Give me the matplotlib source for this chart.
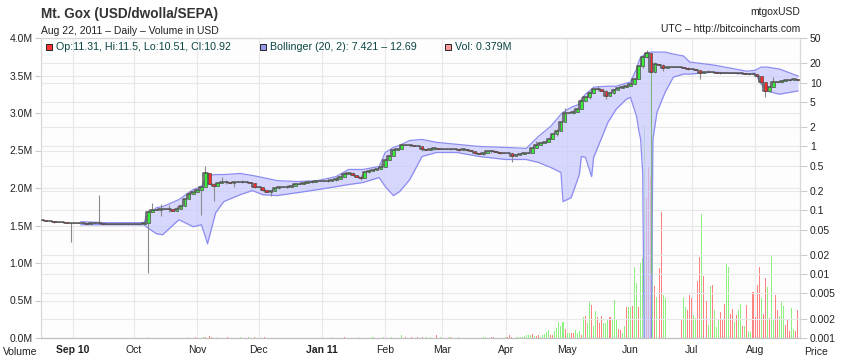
import datetime as dt
import numpy as np
import matplotlib
matplotlib.use('Agg')
import matplotlib.pyplot as plt
import matplotlib.dates as mdates
from matplotlib.ticker import FixedLocator, FixedFormatter, NullLocator

plt.rcParams['font.family'] = ['Liberation Sans', 'DejaVu Sans']

# ---- daily candles, one every 2 days starting here ----
first_day = dt.date(2010, 8, 17)
closes = [
    # Aug 17 - Aug 31 2010
    0.070, 0.068, 0.067, 0.066, 0.065, 0.065, 0.064, 0.064,
    # Sep
    0.063, 0.063, 0.063, 0.062, 0.063, 0.063, 0.063, 0.062, 0.062, 0.062, 0.062, 0.062, 0.062, 0.062, 0.062,
    # Oct
    0.062, 0.062, 0.063, 0.094, 0.100, 0.102, 0.104, 0.106, 0.104, 0.099, 0.105, 0.118, 0.150, 0.180, 0.195,
    # Nov
    0.210, 0.235, 0.390, 0.260, 0.240, 0.270, 0.280, 0.280, 0.270, 0.280, 0.280, 0.280, 0.280, 0.270, 0.235,
    # Dec
    0.230, 0.210, 0.196, 0.200, 0.225, 0.230, 0.235, 0.235, 0.240, 0.255, 0.260, 0.270, 0.275, 0.280, 0.285, 0.290,
    # Jan 2011
    0.290, 0.290, 0.300, 0.310, 0.330, 0.370, 0.390, 0.360, 0.330, 0.320, 0.400, 0.420, 0.430, 0.450, 0.480,
    # Feb
    0.620, 0.700, 0.870, 0.920, 1.060, 1.040, 1.040, 1.030, 1.020, 0.920, 0.880, 0.900, 0.930, 0.900,
    # Mar
    0.900, 0.910, 0.920, 0.900, 0.890, 0.900, 0.870, 0.850, 0.800, 0.770, 0.800, 0.850, 0.840, 0.810, 0.790, 0.780,
    # Apr
    0.780, 0.700, 0.740, 0.770, 0.780, 0.800, 0.930, 1.050, 1.120, 1.180, 1.300, 1.550, 1.750, 2.400, 3.400,
    # May
    3.300, 3.500, 3.900, 5.200, 5.900, 7.000, 7.900, 7.900, 7.500, 6.100, 7.000, 7.600, 8.300, 8.600, 9.000,
    # Jun
    9.500, 11.50, 18.00, 25.00, 29.60, 14.60, 19.50, 19.00, 17.00, 17.50, 17.50, 17.50, 17.40, 17.00, 16.40,
    # Jul
    16.30, 15.60, 14.40, 14.80, 14.80, 14.60, 14.40, 14.20, 14.10, 14.00, 13.90, 14.00, 13.90, 13.80, 13.70, 13.50,
    # Aug
    12.60, 10.30, 7.400, 8.600, 10.20, 10.10, 10.50, 10.80, 11.00, 11.31, 10.92,
]
first_open = 0.071

# candles whose high / low reach past the body
wick_idx = [3, 7, 11, 14, 19, 26, 27, 29, 31, 33, 36, 39, 40, 42, 44, 45, 47, 49, 52, 54,
            56, 58, 60, 62, 64, 66, 70, 72, 74, 76, 78, 80, 83, 86, 88, 90, 93, 96, 100, 102,
            104, 106, 108, 110, 112, 115, 118, 121, 124, 126, 128, 130, 132, 134, 136, 138, 140, 142,
            147, 148, 149, 150, 152, 158, 161, 163, 166, 170, 173, 176, 177, 179, 181, 183, 185]
wick_hi = [0.067, 0.064, 0.064, 0.176, 0.063, 0.100, 0.130, 0.125, 0.120, 0.118, 0.200, 0.240, 0.500, 0.270,
           0.330, 0.300, 0.290, 0.300, 0.270, 0.225, 0.210, 0.240, 0.250, 0.270, 0.285, 0.300, 0.315, 0.330,
           0.400, 0.400, 0.360, 0.450, 0.550, 0.900, 1.100, 1.080, 1.020, 0.960, 0.950, 0.920, 0.920, 0.850,
           0.820, 0.880, 0.830, 0.780, 0.810, 1.200, 1.400, 1.850, 4.000, 3.700, 5.900, 7.400, 8.900, 7.600,
           7.900, 8.900, 26.50, 31.90, 29.60, 21.00, 19.50, 17.50, 15.60, 16.00, 14.80, 14.40, 14.20, 12.70,
           10.30, 12.20, 10.90, 11.30, 11.50]
wick_lo = [0.064, 0.032, 0.060, 0.062, 0.060, 0.0105, 0.094, 0.080, 0.095, 0.097, 0.150, 0.085, 0.235, 0.140,
           0.270, 0.260, 0.230, 0.265, 0.220, 0.200, 0.170, 0.215, 0.225, 0.240, 0.255, 0.265, 0.280, 0.290,
           0.330, 0.340, 0.300, 0.380, 0.450, 0.700, 0.920, 0.980, 0.850, 0.880, 0.880, 0.850, 0.840, 0.750,
           0.740, 0.800, 0.770, 0.580, 0.750, 0.930, 1.180, 1.450, 2.400, 3.200, 3.800, 5.500, 7.500, 5.600,
           6.600, 8.100, 17.00, 24.00, 0.010, 14.00, 15.00, 16.00, 11.30, 14.50, 13.80, 13.50, 13.40, 9.500,
           5.900, 8.600, 9.900, 10.70, 10.51]

# ---- Bollinger (20, 2) band ----
band_dates = ['2010-09-05', '2010-09-17', '2010-10-06', '2010-10-07', '2010-10-12', '2010-10-15',
              '2010-10-23', '2010-10-30', '2010-11-03', '2010-11-05', '2010-11-06', '2010-11-10',
              '2010-11-14', '2010-11-22', '2010-11-28', '2010-12-03', '2010-12-10', '2010-12-20',
              '2010-12-30', '2011-01-08', '2011-01-14', '2011-01-21', '2011-01-29', '2011-02-01',
              '2011-02-05', '2011-02-08', '2011-02-13', '2011-02-19', '2011-02-26', '2011-03-08',
              '2011-03-19', '2011-04-01', '2011-04-11', '2011-04-17', '2011-04-23', '2011-04-28',
              '2011-04-29', '2011-05-03', '2011-05-07', '2011-05-08', '2011-05-10', '2011-05-13',
              '2011-05-14', '2011-05-21', '2011-05-25', '2011-05-30', '2011-06-01', '2011-06-04',
              '2011-06-05', '2011-06-06', '2011-06-07', '2011-06-08', '2011-06-11', '2011-06-12',
              '2011-06-14', '2011-06-18', '2011-06-22', '2011-06-27', '2011-06-30', '2011-07-12',
              '2011-07-28', '2011-08-01', '2011-08-04', '2011-08-07', '2011-08-13', '2011-08-22']
band_upper = [0.0663, 0.0640, 0.0640, 0.0794, 0.110, 0.114, 0.147, 0.211, 0.235, 0.303, 0.351, 0.363,
              0.363, 0.377, 0.351, 0.326, 0.292, 0.282, 0.292, 0.338, 0.436, 0.436, 0.485, 0.805,
              0.966, 1.04, 1.24, 1.29, 1.16, 1.08, 1.00, 0.966, 0.931, 1.44, 2.07, 3.19,
              3.43, 4.11, 4.58, 5.49, 6.58, 7.89, 8.49, 8.79, 8.79, 9.8, 10.2, 16.3,
              21.0, 25.1, 26.1, 28.0, 30.1, 30.1, 30.1, 30.1, 28.0, 26.1, 21.0, 18.8,
              15.1, 15.6, 17.5, 17.5, 16.3, 12.69]
band_lower = [0.0594, 0.0594, 0.0594, 0.0553, 0.0430, 0.0414, 0.0713, 0.0553, 0.0594, 0.0385, 0.0299, 0.0918,
              0.137, 0.176, 0.204, 0.176, 0.170, 0.189, 0.211, 0.235, 0.253, 0.272, 0.326, 0.235,
              0.170, 0.196, 0.303, 0.697, 0.805, 0.805, 0.697, 0.625, 0.625, 0.561, 0.469, 0.391,
              0.137, 0.158, 0.363, 0.697, 0.673, 0.338, 0.673, 2.39, 3.83, 5.49, 5.90, 2.97,
              1.85, 1.29, 0.391, 0.0001, 0.0001, 1.29, 3.43, 7.08, 12.2, 13.6, 13.6, 14.6,
              13.6, 14.1, 9.46, 7.34, 6.58, 7.421]

# ---- volume (millions USD) ----
vol_early_dates = ['2010-10-08', '2010-10-27', '2010-10-31', '2010-11-04', '2010-11-05', '2010-11-07',
                   '2010-11-08', '2010-11-11', '2010-11-16', '2010-11-22', '2010-11-26', '2010-11-29',
                   '2010-12-04', '2011-01-06', '2011-01-12', '2011-01-19', '2011-01-26', '2011-01-31',
                   '2011-02-04', '2011-02-09', '2011-02-11', '2011-02-14', '2011-02-17', '2011-02-19',
                   '2011-02-21', '2011-02-23', '2011-02-26', '2011-02-28', '2011-03-04', '2011-03-05',
                   '2011-03-09', '2011-03-21', '2011-03-22', '2011-03-25', '2011-03-26']
vol_early = [0.01, 0.01, 0.01, 0.015, 0.02, 0.03, 0.02, 0.01, 0.01, 0.01, 0.01, 0.01,
             0.01, 0.01, 0.01, 0.01, 0.01, 0.02, 0.015, 0.04, 0.02, 0.01, 0.015, 0.01,
             0.01, 0.01, 0.035, 0.02, 0.01, 0.015, 0.01, 0.01, 0.01, 0.015, 0.01]
vol_early_dir = 'ggrgrrrgrggrrgrgggggrrrrggrggrgggrr'

vol_start = dt.date(2011, 4, 1)
vol_late = [
    0.01, 0.01, 0.035, 0.01, 0.005, 0.01, 0.02, 0.02, 0.02, 0.03, 0.045, 0.045, 0.045, 0.06, 0.03,
    0.03, 0.035, 0.02, 0.045, 0.06, 0.08, 0.11, 0.045, 0.035, 0.09, 0.13, 0.21, 0.16, 0.22, 0.12,
    0.07, 0.07, 0.07, 0.07, 0.11, 0.07, 0.09, 0.04, 0.28, 0.30, 0.20, 0.48, 0.44, 0.16, 0.36,
    0.28, 0.20, 0.29, 0.20, 0.20, 0.25, 0.28, 0.24, 0.51, 0.24, 0.12, 0.11, 0.07, 0.16, 0.42,
    0.42, 0.42, 0.43, 0.95, 0.73, 0.42, 1.00, 1.07, 2.85, 1.87, 2.28, 2.15, 1.48, 0.69, 0.55,
    0.93, 1.68, 0.57, 0.54, 0, 0, 0, 0, 0, 0, 0,
    0.24, 0.54, 0.42, 0.37, 0.57, 0.53, 0.31, 0.27, 0.76, 1.08, 1.65, 0.83, 0.50, 0.17, 0.69,
    0.71, 0.38, 0.15, 0.24, 0.35, 0.24, 0.45, 0.99, 0.95, 0.32, 0.39, 0.22, 0.31, 0.38, 0.46,
    0.16, 0.16, 0.44, 0.10, 0.08, 0.62, 0.28, 0.71, 0.95, 0.54, 0.32, 0.80, 0.68, 0.27, 1.10,
    0.24, 0.58, 0.38, 0.30, 0.48, 0.43, 0.17, 0.26, 0.10, 0.40, 0.12, 0.10, 0.379,
]
vol_late_dir = ('grrrgggggg' 'gggrgrrggg' 'ggrrgggggr' 'ggrrgggrgr' 'ggrggrrrgg'
                'grgggrrggr' 'ggrggrgggr' 'rrgrgrrggg' 'gggggg'
                'rggrrrggrr' 'grrggrgggr' 'rrggrrgrgg' 'rgrggrrrrg' 'rrgrggrrgg' 'grrrggrr')

price_ticks = [50, 20, 10, 5, 2, 1, 0.5, 0.2, 0.1, 0.05, 0.02, 0.01, 0.005, 0.002, 0.001]
price_labels = ['50', '20', '10', '5', '2', '1', '0.5', '0.2', '0.1', '0.05', '0.02', '0.01',
                '0.005', '0.002', '0.001']
vol_ticks = [0, 0.5, 1, 1.5, 2, 2.5, 3, 3.5, 4]
month_ticks = ['2010-09-01', '2010-10-01', '2010-11-01', '2010-12-01', '2011-01-01', '2011-02-01',
               '2011-03-01', '2011-04-01', '2011-05-01', '2011-06-01', '2011-07-01', '2011-08-01']
month_labels = ['Sep 10', 'Oct', 'Nov', 'Dec', 'Jan 11', 'Feb', 'Mar', 'Apr', 'May', 'Jun', 'Jul', 'Aug']

GREEN = '#8ef07e'
PINK = '#ff8282'
GRID = '#e8e8e8'
TXT = '#222222'


def to_num(s):
    return mdates.date2num(dt.datetime.strptime(s, '%Y-%m-%d'))


fig = plt.figure(figsize=(8.41, 3.60), dpi=100)
ax = fig.add_axes([41 / 841, 22 / 360, 759 / 841, 300 / 360])
ax.set_facecolor('#fcfdfc')
ax2 = ax.twinx()

# volume on the left axis
n_late = len(vol_late)
late_x = [mdates.date2num(vol_start + dt.timedelta(days=k)) for k in range(n_late)]
late_c = [GREEN if vol_late_dir[k] == 'g' else PINK for k in range(n_late)]
ax.bar(late_x, vol_late, width=0.5, color=late_c, linewidth=0, antialiased=False, zorder=2)
early_x = [to_num(s) for s in vol_early_dates]
early_c = [GREEN if d == 'g' else PINK for d in vol_early_dir]
ax.bar(early_x, vol_early, width=0.5, color=early_c, linewidth=0, antialiased=False, zorder=2)

ax.set_ylim(0, 4)
ax.yaxis.set_major_locator(FixedLocator(vol_ticks))
ax.set_yticklabels(['%.1fM' % v for v in vol_ticks])
month_x = [to_num(s) for s in month_ticks]
ax.xaxis.set_major_locator(FixedLocator(month_x))
ax.xaxis.set_major_formatter(FixedFormatter(month_labels))
ax.set_xlim(mdates.date2num(dt.datetime(2010, 8, 16, 12)), mdates.date2num(dt.datetime(2011, 8, 23, 0)))
ax.grid(True, color=GRID, linewidth=0.8, zorder=0)
ax.set_axisbelow(True)
ax.tick_params(axis='y', length=4, color='#cccccc', labelsize=7.5, labelcolor=TXT, pad=2)
ax.tick_params(axis='x', length=0, labelsize=7.5, labelcolor=TXT, pad=5)
for lab in ax.get_xticklabels():
    if lab.get_text() in ('Sep 10', 'Jan 11'):
        lab.set_fontweight('bold')

# price on the right axis (log)
ax2.set_yscale('log')
ax2.set_ylim(0.001, 50)
ax2.yaxis.set_major_locator(FixedLocator(price_ticks))
ax2.yaxis.set_major_formatter(FixedFormatter(price_labels))
ax2.yaxis.set_minor_locator(NullLocator())
ax2.tick_params(axis='y', length=5, color='#cccccc', labelsize=7.5, labelcolor=TXT, pad=2)
ax2.grid(True, axis='y', color=GRID, linewidth=0.8, zorder=0)
ax2.set_axisbelow(True)

bx = [to_num(s) for s in band_dates]
ax2.fill_between(bx, band_lower, band_upper, color='#c8c8ff', alpha=0.7, linewidth=0, zorder=1)
ax2.plot(bx, band_upper, color='#8c8cf0', lw=0.9, zorder=1.5)
ax2.plot(bx, band_lower, color='#8c8cf0', lw=0.9, zorder=1.5)

n = len(closes)
cx = [mdates.date2num(first_day + dt.timedelta(days=2 * k)) for k in range(n)]
opens = [first_open] + closes[:-1]
highs = [max(o, c) for o, c in zip(opens, closes)]
lows = [min(o, c) for o, c in zip(opens, closes)]
for k, h, l in zip(wick_idx, wick_hi, wick_lo):
    highs[k] = h
    lows[k] = l
wick_c = ['#7fb87f' if k == 149 else '#8a8a8a' for k in range(n)]
ax2.vlines(cx, lows, highs, colors=wick_c, lw=0.8, zorder=3)
# the dark line made by the flat candle bodies
ax2.plot(cx, closes, drawstyle='steps-mid', color='#555555', lw=1.1, zorder=3.5)
body_lo = [min(o, c) for o, c in zip(opens, closes)]
body_h = [abs(c - o) for o, c in zip(opens, closes)]
body_c = ['#33ee33' if c >= o else '#ff2a2a' for o, c in zip(opens, closes)]
ax2.bar(cx, body_h, bottom=body_lo, width=1.3, color=body_c, edgecolor='#505050', linewidth=0.5, zorder=4)

for a in (ax, ax2):
    for side in ('left', 'right', 'top'):
        a.spines[side].set_color('#d8d8d8')
    a.spines['bottom'].set_color('#c0c0c0')

# titles and legend texts
fig.text(41 / 841, 1 - 14 / 360, 'Mt. Gox (USD/dwolla/SEPA)', fontsize=9.8, fontweight='bold',
         color='#333333', va='center', ha='left')
fig.text(41 / 841, 1 - 31 / 360, 'Aug 22, 2011 \u2013 Daily \u2013 Volume in USD', fontsize=7.5,
         color=TXT, va='center', ha='left')
fig.text(800 / 841, 1 - 12 / 360, 'mtgoxUSD', fontsize=7.5, color=TXT, va='center', ha='right')
fig.text(800 / 841, 1 - 29 / 360, 'UTC \u2013 http://bitcoincharts.com', fontsize=7.5, color=TXT,
         va='center', ha='right')
fig.text(3 / 841, 1 - 352 / 360, 'Volume', fontsize=7.5, color=TXT, va='center', ha='left')
fig.text(804 / 841, 1 - 352 / 360, 'Price', fontsize=7.5, color=TXT, va='center', ha='left')

legend_items = [(46, '#ff3333', 'Op:11.31, Hi:11.5, Lo:10.51, Cl:10.92'),
                (260, '#9999ee', 'Bollinger (20, 2): 7.421 \u2013 12.69'),
                (445, '#ff9999', 'Vol: 0.379M')]
for px, col, txt in legend_items:
    fig.patches.append(plt.Rectangle((px / 841, 1 - 50 / 360), 6 / 841, 6 / 360, transform=fig.transFigure,
                                     facecolor=col, edgecolor='#222222', linewidth=0.7, zorder=10))
    fig.text((px + 10) / 841, 1 - 46.5 / 360, txt, fontsize=7.7, color='#0b4545', va='center', ha='left')

fig.savefig('out.png', dpi=100, facecolor='white')
